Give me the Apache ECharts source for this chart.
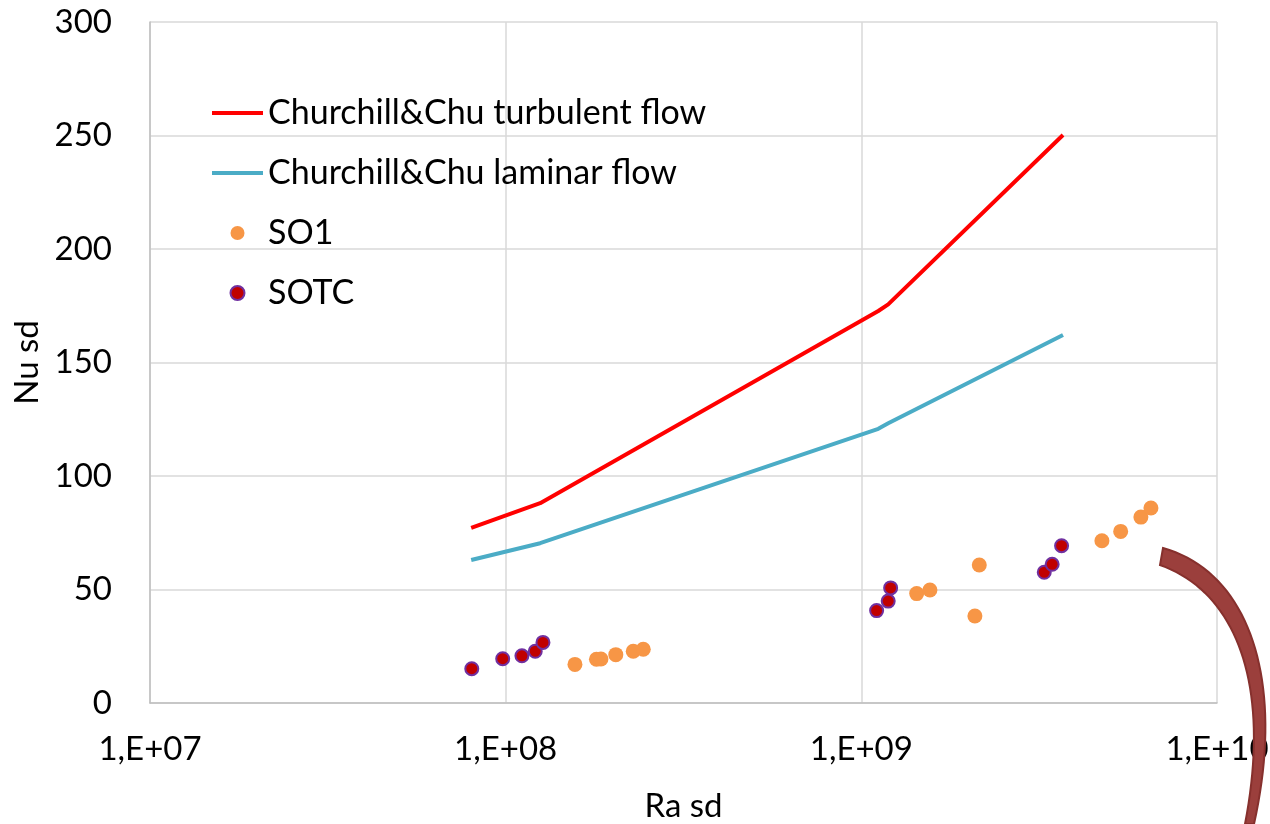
<!DOCTYPE html>
<html>
<head>
<meta charset="utf-8">
<script src="https://cdn.jsdelivr.net/npm/echarts@6/dist/echarts.min.js"></script>
<style>
html,body{margin:0;padding:0;background:#fff;}
#chart{width:1270px;height:824px;}
</style>
</head>
<body>
<div id="chart"></div>
<script>
// Churchill & Chu correlations (Ra sd, Nu sd)
const ccRa = [8.0e7, 1.25e8, 1.116e9, 1.19e9, 3.69e9];
const ccTurbulent = [77.1, 88.0, 172.7, 175.6, 250.2];
const ccLaminar = [63.0, 70.4, 120.8, 123.2, 162.1];

// SO1 measurements
const so1Ra = [1.566e8, 1.80e8, 1.853e8, 2.04e8, 2.284e8, 2.437e8, 1.431e9, 1.559e9, 2.146e9, 2.086e9, 4.747e9, 5.36e9, 6.11e9, 6.52e9];
const so1Nu = [17.0, 19.3, 19.4, 21.3, 22.8, 23.7, 48.2, 49.8, 60.8, 38.3, 71.5, 75.6, 81.9, 85.9];

// SOTC measurements
const sotcRa = [8.03e7, 9.81e7, 1.111e8, 1.211e8, 1.273e8, 1.104e9, 1.19e9, 1.209e9, 3.268e9, 3.44e9, 3.656e9];
const sotcNu = [15.1, 19.5, 20.8, 22.8, 26.7, 40.7, 44.9, 50.7, 57.6, 61.1, 69.3];

const seriesNames = ['Churchill&Chu turbulent flow', 'Churchill&Chu laminar flow', 'SO1', 'SOTC'];
const xName = 'Ra sd';
const yName = 'Nu sd';

const pairs = (xs, ys) => xs.map((x, i) => [x, ys[i]]);

// decorative curved arrow shape (outline of a tapered arc)
function cubic(p0, p1, p2, p3, n) {
  const pts = [];
  for (let i = 0; i <= n; i++) {
    const t = i / n, u = 1 - t;
    pts.push([
      u*u*u*p0[0] + 3*u*u*t*p1[0] + 3*u*t*t*p2[0] + t*t*t*p3[0],
      u*u*u*p0[1] + 3*u*u*t*p1[1] + 3*u*t*t*p2[1] + t*t*t*p3[1]
    ]);
  }
  return pts;
}
const arcOuter = cubic([1163, 548], [1249, 572], [1286, 680], [1254, 824], 40);
const arcInner = cubic([1245, 824], [1272, 684], [1236, 592], [1160, 565], 40);
const arcShape = arcOuter.concat(arcInner);

const FONT = 'Lato';
const FS = 33;
const lineIcon = 'path://M0,0 L51,0 L51,4 L0,4 Z';
const chart = echarts.init(document.getElementById('chart'));
chart.setOption({
  animation: false,
  backgroundColor: '#fff',
  grid: { left: 150, right: 53, top: 22, bottom: 121, containLabel: false, outerBoundsMode: 'none' },
  legend: {
    orient: 'vertical',
    left: 212,
    top: 95,
    padding: 0,
    itemWidth: 51,
    itemHeight: 14,
    itemGap: 24,
    data: [
      { name: seriesNames[0], icon: lineIcon },
      { name: seriesNames[1], icon: lineIcon },
      { name: seriesNames[2], icon: 'circle' },
      { name: seriesNames[3], icon: 'circle' }
    ],
    textStyle: { fontFamily: FONT, fontSize: FS + 1, color: '#000', lineHeight: 36 }
  },
  xAxis: {
    type: 'log',
    logBase: 10,
    min: 1e7,
    max: 1e10,
    name: xName,
    nameLocation: 'middle',
    nameGap: 87,
    nameTextStyle: { fontFamily: FONT, fontSize: FS, color: '#000' },
    axisLine: { show: true, lineStyle: { color: '#bfbfbf', width: 1.5 } },
    axisTick: { show: false },
    axisLabel: {
      fontFamily: FONT, fontSize: FS, color: '#000', margin: 30,
      formatter: v => { const e = Math.round(Math.log10(v)); return '1,E+' + (e < 10 ? '0' + e : e); }
    },
    splitLine: { show: true, lineStyle: { color: '#d9d9d9', width: 1.5 } }
  },
  yAxis: {
    type: 'value',
    min: 0,
    max: 300,
    interval: 50,
    name: yName,
    nameLocation: 'middle',
    nameGap: 102,
    nameTextStyle: { fontFamily: FONT, fontSize: FS, color: '#000' },
    axisLine: { show: true, lineStyle: { color: '#bfbfbf', width: 1.5 } },
    axisTick: { show: false },
    axisLabel: { fontFamily: FONT, fontSize: FS, color: '#000', margin: 38 },
    splitLine: { show: true, lineStyle: { color: '#d9d9d9', width: 1.5 } }
  },
  series: [
    {
      name: seriesNames[0], type: 'line', symbol: 'none',
      lineStyle: { color: '#ff0000', width: 4 }, itemStyle: { color: '#ff0000' },
      data: pairs(ccRa, ccTurbulent), z: 3
    },
    {
      name: seriesNames[1], type: 'line', symbol: 'none',
      lineStyle: { color: '#4bacc6', width: 4 }, itemStyle: { color: '#4bacc6' },
      data: pairs(ccRa, ccLaminar), z: 3
    },
    {
      name: seriesNames[2], type: 'scatter', symbol: 'circle', symbolSize: 15,
      itemStyle: { color: '#f79646', opacity: 1 },
      data: pairs(so1Ra, so1Nu), z: 4
    },
    {
      name: seriesNames[3], type: 'scatter', symbol: 'circle', symbolSize: 13,
      itemStyle: { color: '#c00000', borderColor: '#7030a0', borderWidth: 2, opacity: 1 },
      data: pairs(sotcRa, sotcNu), z: 5
    }
  ],
  graphic: [
    {
      type: 'polygon',
      z: 100,
      shape: { points: arcShape },
      style: { fill: '#9b3f3c', stroke: '#86302d', lineWidth: 2 }
    }
  ]
});
</script>
</body>
</html>
